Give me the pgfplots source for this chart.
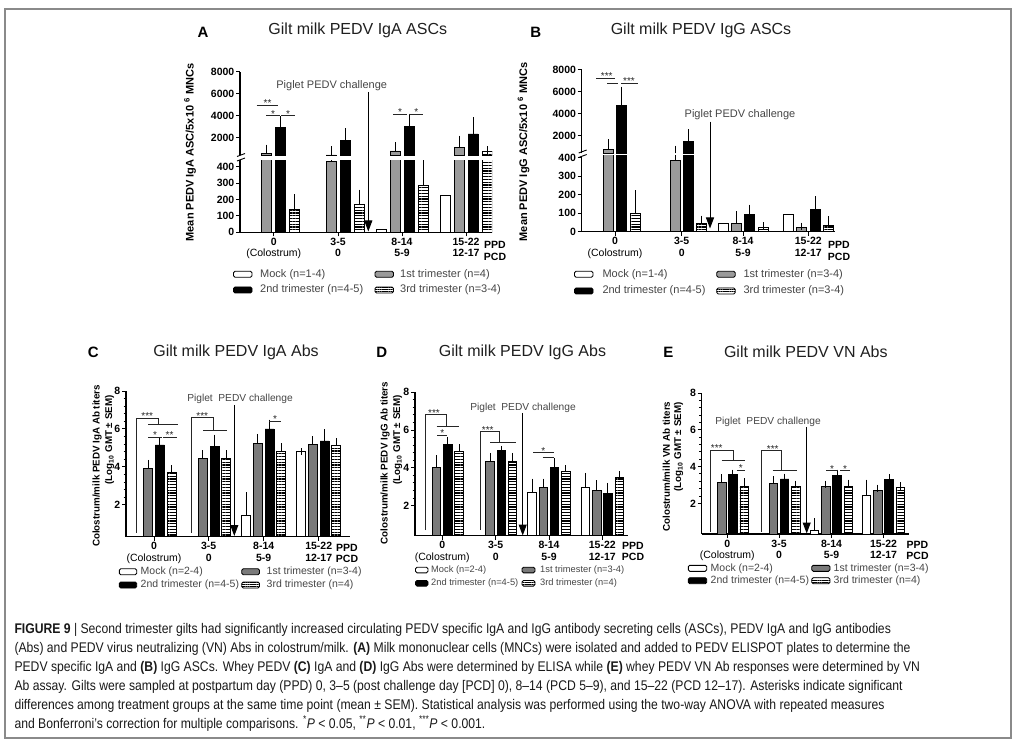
\documentclass[border=0pt]{standalone}
\usepackage{fontspec}
\setmainfont{Liberation Sans}
\newfontfamily\capfont[FakeStretch=0.87]{Liberation Sans}
\usepackage{pgfplots}
\usepackage{pgfplotstable}
\pgfplotsset{compat=1.18}
\usetikzlibrary{patterns.meta,arrows.meta}

\definecolor{gA}{HTML}{9A9A9A}
\definecolor{gC}{HTML}{7A7A7A}
\definecolor{tx}{HTML}{454545}
\definecolor{fr}{HTML}{8A8A8A}
\newcommand\fs[1]{\fontsize{#1}{#1}\selectfont}

% columns: group centre (px), mock, 1st, 2nd, 3rd trimester (mean, SEM)
\pgfplotstableread{
x     mk   g    ge   b    be   s    se
273.7 nan  582  454  2909 700  142  69
338   nan  430  452  1727 818  171  67
402   15   791  454  3000 854  288  132
466   227  1091 764  2336 1182 727  155
}\tabA
\pgfplotstableread{
x     mk   g    ge   b    be   s    se
615   nan  764  600  4727 1428 100  104
681.7 nan  387  377  1455 818  45   23
743   45   45   46   95   32   22   9
808.3 91   22   8    118  55   33   31
}\tabB
\pgfplotstableread{
x     mk   mke  g    ge   b    be   s    se
154   nan  nan  3.93 0.26 5.16 0.17 3.72 0.17
208.7 nan  nan  4.46 0.22 5.07 0.44 4.46 0.22
263.7 1.47 1.02 5.25 0.31 6.00 0.30 4.81 0.26
318.7 4.81 0    5.19 0.23 5.37 0.43 5.12 0.21
}\tabC
\pgfplotstableread{
x     mk   mke  g    ge   b    be   s    se
442.2 nan  nan  4.04 0.44 5.22 0.23 4.88 0.18
495.7 nan  nan  4.34 0.26 4.92 0.05 4.34 0.26
549   2.71 0.53 2.95 0.29 4.04 0.30 3.83 0.12
602.3 2.98 0.56 2.80 0.36 2.63 0.39 3.48 0.15
}\tabD
\pgfplotstableread{
x     mk   mke  g    ge   b    be   s    se
727.3 nan  nan  3.15 0.25 3.55 0.09 2.95 0.23
779   nan  nan  3.06 0.22 3.33 0.09 2.95 0.09
831.5 0.56 0.45 2.91 0.13 3.51 0.13 2.95 0.15
883.5 2.46 0.64 2.73 0.10 3.28 0.12 2.88 0.07
}\tabE

\pgfplotsset{
  common/.style={scale only axis, anchor=south west, ybar, clip=true,
    axis line style={line width=1.1pt, black},
    tick style={line width=1pt, black},
    tick align=outside, major tick length=4pt, minor tick length=2.5pt,
    /pgf/number format/assume math mode=true,
    /pgf/number format/1000 sep={},
    scaled y ticks=false,
    yticklabel style={font=\bfseries\fs{10.5}, inner sep=1.5pt},
    xticklabel style={font=\fontsize{10.5}{11.5}\selectfont, align=center, inner sep=1.5pt},
  },
  lower/.style={common, axis x line*=bottom, axis y line*=left,
    xtick={#1},
    xticklabels={{\textbf{0}\\(Colostrum)},{\textbf{3-5}\\\textbf{0}},{\textbf{8-14}\\\textbf{5-9}},{\textbf{15-22}\\\textbf{12-17}}}},
  upper/.style={common, axis x line=none, axis y line*=left, xtick=\empty,
    y filter/.expression={y<400 ? nan : y}},
  bb/.style={draw=black, line width=0.9pt, fill=#1, bar shift=0pt},
  bh/.style={draw=black, line width=0.9pt, pattern={Lines[angle=0,distance=2.8pt,line width=1.25pt]}, pattern color=black, bar shift=0pt},
  eb/.style={error bars/.cd, y dir=plus, y explicit,
    error bar style={line width=0.9pt, black},
    error mark options={line width=0.9pt, mark size=3.6pt, black}},
}

\newcommand\series[4]{%
  \addplot[bb=white] table[x expr=\thisrow{x}-#3, y=mk] {#1};
  \addplot[bb=#4, eb] table[x expr=\thisrow{x}-#2, y=g, y error=ge] {#1};
  \addplot[bb=black, eb] table[x expr=\thisrow{x}+#2, y=b, y error=be] {#1};
  \addplot[bh, eb] table[x expr=\thisrow{x}+#3, y=s, y error=se] {#1};
}
\newcommand\seriesM[4]{%
  \addplot[bb=white, eb] table[x expr=\thisrow{x}-#3, y=mk, y error=mke] {#1};
  \addplot[bb=#4, eb] table[x expr=\thisrow{x}-#2, y=g, y error=ge] {#1};
  \addplot[bb=black, eb] table[x expr=\thisrow{x}+#2, y=b, y error=be] {#1};
  \addplot[bh, eb] table[x expr=\thisrow{x}+#3, y=s, y error=se] {#1};
}

\begin{document}
\begin{tikzpicture}[x=1pt,y=1pt]
\useasboundingbox (0pt,0pt) rectangle (1017pt,745pt);
\coordinate (pAl) at (240pt,512.7pt);
\coordinate (pAu) at (240pt,589.7pt);
\coordinate (pBl) at (581.7pt,513.3pt);
\coordinate (pBu) at (581.7pt,591.7pt);
\coordinate (pC) at (126pt,208.3pt);
\coordinate (pD) at (415pt,209.3pt);
\coordinate (pE) at (701.7pt,211pt);

% ---------- Panel A ----------
\begin{axis}[lower={273.7,338,402,466}, at={(pAl)}, width=252pt, height=72.2pt,
  xmin=240, xmax=492, ymin=0, ymax=440, ytick={0,100,200,300,400}, bar width=10]
\series{\tabA}{7}{21}{gA}
\end{axis}
\begin{axis}[upper, at={(pAu)}, width=252pt, height=83.6pt,
  xmin=240, xmax=492, ymin=400, ymax=8000, ytick={2000,4000,6000,8000}, bar width=10]
\series{\tabA}{7}{21}{gA}
\end{axis}

% ---------- Panel B ----------
\begin{axis}[lower={615,681.7,743,808.3}, at={(pBl)}, width=253.3pt, height=75.85pt,
  xmin=581.7, xmax=835, ymin=0, ymax=410, ytick={0,100,200,300,400}, bar width=10]
\series{\tabB}{6.7}{20}{gA}
\end{axis}
\begin{axis}[upper, at={(pBu)}, width=253.3pt, height=83.3pt,
  xmin=581.7, xmax=835, ymin=400, ymax=8000, ytick={2000,4000,6000,8000}, bar width=10]
\series{\tabB}{6.7}{20}{gA}
% error bar of the 1st-trimester bar at 3-5, which crosses the axis break
\addplot[sharp plot, draw=none, mark=none, y filter/.code={},
  skip coords between index={0}{1}, skip coords between index={2}{4}, eb]
  table[x expr=\thisrow{x}-6.7, y=g, y error=ge] {\tabB};
\end{axis}

% ---------- Panel C ----------
\begin{axis}[lower={154,208.7,263.7,318.7}, at={(pC)}, width=224pt, height=145.7pt,
  xmin=126, xmax=350, ymin=0.33, ymax=8, ytick={2,4,6,8}, minor y tick num=4, bar width=9]
\seriesM{\tabC}{5.8}{17.5}{gC}
\end{axis}

% ---------- Panel D ----------
\begin{axis}[lower={442.2,495.7,549,602.3}, at={(pD)}, width=213.3pt, height=143.4pt,
  xmin=415, xmax=628.3, ymin=0.41, ymax=8, ytick={2,4,6,8}, minor y tick num=4, bar width=8.5]
\seriesM{\tabD}{5.6}{16.9}{gC}
\end{axis}

% ---------- Panel E ----------
\begin{axis}[lower={727.3,779,831.5,883.5}, at={(pE)}, width=207.6pt, height=141pt,
  xmin=701.7, xmax=909.3, ymin=0.34, ymax=8, ytick={2,4,6,8}, minor y tick num=4, bar width=8.5]
\seriesM{\tabE}{5.6}{16.9}{gC}
\end{axis}

% ---------- annotations, in picture pixels (y downwards) ----------
\begin{scope}[yshift=745pt, y=-1pt,
  sig/.style={line width=0.9pt, black!85},
  st/.style={font=\fs{10}, anchor=base, inner sep=0pt, text=black!85},
  arr/.style={line width=1pt, -{Triangle[width=8pt,length=11pt]}},
  pt/.style={font=\fs{11}, text=tx, inner sep=0pt},
  pt2/.style={font=\fs{10.2}, text=tx, inner sep=0pt},
  yl/.style={rotate=90, font=\bfseries\fs{11}, inner sep=0pt},
  yl2/.style={rotate=90, font=\bfseries\fs{9.8}, inner sep=0pt},
  tt/.style={font=\fs{16}, text=black!88, inner sep=0pt},
  pl/.style={font=\bfseries\fs{15}, inner sep=0pt},
  lt/.style={anchor=west, font=\fs{11}, text=tx, inner sep=0pt},
  lt2/.style={anchor=west, font=\fs{10.5}, text=tx, inner sep=0pt},
  lt3/.style={anchor=west, font=\fs{9.3}, text=tx, inner sep=0pt},
  xl/.style={font=\bfseries\fs{10.5}, inner sep=0pt},
  lb/.style={line width=0.9pt, rounded corners=1.5pt}]

\draw[fr, line width=1.2pt] (5,9) rectangle (1011,738);

% --- A ---
\node[pl] at (203,32) {A};
\node[tt] at (357.8,30) {Gilt milk PEDV IgA ASCs};
\node[yl] at (190,152.5) {Mean PEDV IgA ASC/5x10 \textsuperscript{6} MNCs};
\draw[line width=0.9pt] (237,156.5)--(245,153.5) (237,161)--(245,158);
\draw[sig] (256.7,105)--(278.3,105); \node[st] at (267.5,106.5) {**};
\draw[sig] (266,115.7)--(280,115.7); \node[st] at (273,117.5) {*};
\draw[sig] (281,115.7)--(295,115.7); \node[st] at (288,117.5) {*};
\draw[sig] (393.3,114.3)--(406.7,114.3); \node[st] at (400,116) {*};
\draw[sig] (409.3,114.3)--(423.3,114.3); \node[st] at (416.3,116) {*};
\draw[arr] (368.3,92)--(368.3,231.5);
\node[pt] at (331.7,85.7) {Piglet PEDV challenge};
\node[xl] at (495,245) {PPD}; \node[xl] at (495,256.5) {PCD};
\draw[lb, fill=white] (233.5,271.3) rectangle (252,277.3);
\node[lt] at (260,274.3) {Mock (n=1-4)};
\draw[lb, fill=gA] (375,271.3) rectangle (393.5,277.3);
\node[lt] at (400,274.3) {1st trimester (n=4)};
\draw[lb, fill=black] (233.5,287) rectangle (252,293);
\node[lt] at (260,290) {2nd trimester (n=4-5)};
\draw[lb, pattern={Lines[angle=0,distance=2.2pt,line width=0.9pt]}] (375,287) rectangle (393.5,293);
\node[lt] at (400,290) {3rd trimester (n=3-4)};

% --- B ---
\node[pl] at (535.7,32) {B};
\node[tt] at (701,30) {Gilt milk PEDV IgG ASCs};
\node[yl] at (523.5,152) {Mean PEDV IgG ASC/5x10 \textsuperscript{6} MNCs};
\draw[line width=0.9pt] (578.7,153)--(586.7,150) (578.7,157.5)--(586.7,154.5);
\draw[sig] (596,78.3)--(615,78.3); \node[st] at (606.7,80) {***};
\draw[sig] (607,83.3)--(618.3,83.3);
\draw[sig] (621,83.3)--(638.3,83.3); \node[st] at (629,85) {***};
\draw[arr] (710,121.7)--(710,228.5);
\node[pt] at (740,115) {Piglet PEDV challenge};
\node[xl] at (839,245) {PPD}; \node[xl] at (839,256.5) {PCD};
\draw[lb, fill=white] (574.5,271.3) rectangle (593,277.3);
\node[lt] at (602.3,274.3) {Mock (n=1-4)};
\draw[lb, fill=gA] (716.7,271.3) rectangle (735.2,277.3);
\node[lt] at (743.3,274.3) {1st trimester (n=3-4)};
\draw[lb, fill=black] (574.5,288) rectangle (593,294);
\node[lt] at (602.3,291) {2nd trimester (n=4-5)};
\draw[lb, pattern={Lines[angle=0,distance=2.2pt,line width=0.9pt]}] (716.7,288) rectangle (735.2,294);
\node[lt] at (743.3,291) {3rd trimester (n=3-4)};

% --- C ---
\node[pl] at (93.3,352) {C};
\node[tt] at (236,352) {Gilt milk PEDV IgA Abs};
\node[yl2] at (97,466) {Colostrum/milk PEDV IgA Ab titers};
\node[yl2] at (109.5,440) {(Log\textsubscript{10} GMT \textpm{} SEM)};
\draw[sig] (136.7,532.7)--(136.7,418.3)--(158.3,418.3)--(158.3,424.3);
\draw[sig] (148.3,424.3)--(178.3,424.3); \node[st] at (147.3,420) {***};
\draw[sig] (148,437)--(162,437); \node[st] at (155,438.8) {*};
\draw[sig] (163,437)--(177,437); \node[st] at (169.5,438.8) {**};
\draw[sig] (191.7,532.7)--(191.7,417.7)--(213.3,417.7)--(213.3,430.7);
\draw[sig] (203.3,430.7)--(226.7,430.7); \node[st] at (202.3,419.5) {***};
\draw[sig] (269,421)--(280.7,421); \node[st] at (275,422.8) {*};
\draw[arr] (234.3,405)--(234.3,536);
\node[pt2] at (240,399.3) {Piglet\ \ PEDV challenge};
\node[xl] at (347,547.5) {PPD}; \node[xl] at (347,559) {PCD};
\draw[lb, fill=white] (119.3,568.7) rectangle (136.7,574.7);
\node[lt2] at (140.5,571.7) {Mock (n=2-4)};
\draw[lb, fill=gC] (241.7,568.7) rectangle (259.5,574.7);
\node[lt2] at (266.5,571.7) {1st trimester (n=3-4)};
\draw[lb, fill=black] (119.3,582) rectangle (136.7,588);
\node[lt2] at (140.5,585) {2nd trimester (n=4-5)};
\draw[lb, pattern={Lines[angle=0,distance=2.2pt,line width=0.9pt]}] (241.7,582) rectangle (259.5,588);
\node[lt2] at (266.5,585) {3rd trimester (n=4)};

% --- D ---
\node[pl] at (381.7,352) {D};
\node[tt] at (522.5,352) {Gilt milk PEDV IgG Abs};
\node[yl2] at (385,463) {Colostrum/milk PEDV IgG Ab titers};
\node[yl2] at (397.5,440) {(Log\textsubscript{10} GMT \textpm{} SEM)};
\draw[sig] (425,530)--(425,414.3)--(446,414.3)--(446,426.7);
\draw[sig] (436.7,426.7)--(459.3,426.7); \node[st] at (434,417) {***};
\draw[sig] (437.3,435)--(447.3,435); \node[st] at (442.3,437) {*};
\draw[sig] (480,530)--(480,431.7)--(499.3,431.7)--(499.3,442.3);
\draw[sig] (490,442.3)--(516,442.3); \node[st] at (487.7,434) {***};
\draw[sig] (533.3,452.7)--(554,452.7); \draw[sig] (542.7,457.3)--(554,457.3);
\node[st] at (543.3,454.5) {*};
\draw[arr] (522.7,413)--(522.7,535.5);
\node[pt2] at (523,408.3) {Piglet\ \ PEDV challenge};
\node[xl] at (633,546) {PPD}; \node[xl] at (633,557) {PCD};
\draw[lb, fill=white] (415.5,567.2) rectangle (428,572.8);
\node[lt3] at (431,570) {Mock (n=2-4)};
\draw[lb, fill=gC] (522,567.2) rectangle (535,572.8);
\node[lt3] at (540,570) {1st trimester (n=3-4)};
\draw[lb, fill=black] (415.5,580.5) rectangle (428,586.1);
\node[lt3] at (431,583.3) {2nd trimester (n=4-5)};
\draw[lb, pattern={Lines[angle=0,distance=2.2pt,line width=0.9pt]}] (522,580.5) rectangle (535,586.1);
\node[lt3] at (540,583.3) {3rd trimester (n=4)};

% --- E ---
\node[pl] at (668.3,352) {E};
\node[tt] at (805.8,352) {Gilt milk PEDV VN Abs};
\node[yl2] at (666.5,466.7) {Colostrum/milk VN Ab titers};
\node[yl2] at (678.5,447) {(Log\textsubscript{10} GMT \textpm{} SEM)};
\draw[sig] (710,531.7)--(710,450)--(733.3,450)--(733.3,460);
\draw[sig] (721.7,460)--(745,460); \node[st] at (716.7,452) {***};
\draw[sig] (736.7,470)--(745,470); \node[st] at (740.8,471.8) {*};
\draw[sig] (761.7,531.7)--(761.7,450.7)--(781.7,450.7)--(781.7,470.7);
\draw[sig] (772.7,470.7)--(796.7,470.7); \node[st] at (772.7,452.3) {***};
\draw[sig] (826,470.7)--(838.3,470.7); \node[st] at (832,472.5) {*};
\draw[sig] (840,470.7)--(850,470.7); \node[st] at (845,472.5) {*};
\draw[arr] (806.7,427)--(806.7,533.5);
\node[pt2] at (768,421.7) {Piglet\ \ PEDV challenge};
\node[xl] at (917.5,545) {PPD}; \node[xl] at (917.5,556) {PCD};
\draw[lb, fill=white] (688.3,565.3) rectangle (706.7,571.3);
\node[lt2] at (710.5,568.3) {Mock (n=2-4)};
\draw[lb, fill=gC] (811.7,565.3) rectangle (830,571.3);
\node[lt2] at (833.5,568.3) {1st trimester (n=3-4)};
\draw[lb, fill=black] (688.3,577.7) rectangle (706.7,583.7);
\node[lt2] at (710.5,580.7) {2nd trimester (n=4-5)};
\draw[lb, pattern={Lines[angle=0,distance=2.2pt,line width=0.9pt]}] (811.7,577.7) rectangle (830,583.7);
\node[lt2] at (833.5,580.7) {3rd trimester (n=4)};

% --- caption ---
\begin{scope}[every node/.style={anchor=base west, inner sep=0pt, font=\capfont\fs{14}, text=black!90}]
\node at (14.3,633) {\textbf{FIGURE 9} | Second trimester gilts had significantly increased circulating PEDV specific IgA and IgG antibody secreting cells (ASCs), PEDV IgA and IgG antibodies};
\node at (14.3,652) {(Abs) and PEDV virus neutralizing (VN) Abs in colostrum/milk. \textbf{(A)} Milk mononuclear cells (MNCs) were isolated and added to PEDV ELISPOT plates to determine the};
\node at (14.3,671) {PEDV specific IgA and \textbf{(B)} IgG ASCs. Whey PEDV \textbf{(C)} IgA and \textbf{(D)} IgG Abs were determined by ELISA while \textbf{(E)} whey PEDV VN Ab responses were determined by VN};
\node at (14.3,690) {Ab assay. Gilts were sampled at postpartum day (PPD) 0, 3–5 (post challenge day [PCD] 0), 8–14 (PCD 5–9), and 15–22 (PCD 12–17). Asterisks indicate significant};
\node at (14.3,709) {differences among treatment groups at the same time point (mean \textpm{} SEM). Statistical analysis was performed using the two-way ANOVA with repeated measures};
\node at (14.3,728) {and Bonferroni’s correction for multiple comparisons. \textsuperscript{*}\textit{P} < 0.05, \textsuperscript{**}\textit{P} < 0.01, \textsuperscript{***}\textit{P} < 0.001.};
\end{scope}
\end{scope}
\end{tikzpicture}
\end{document}
